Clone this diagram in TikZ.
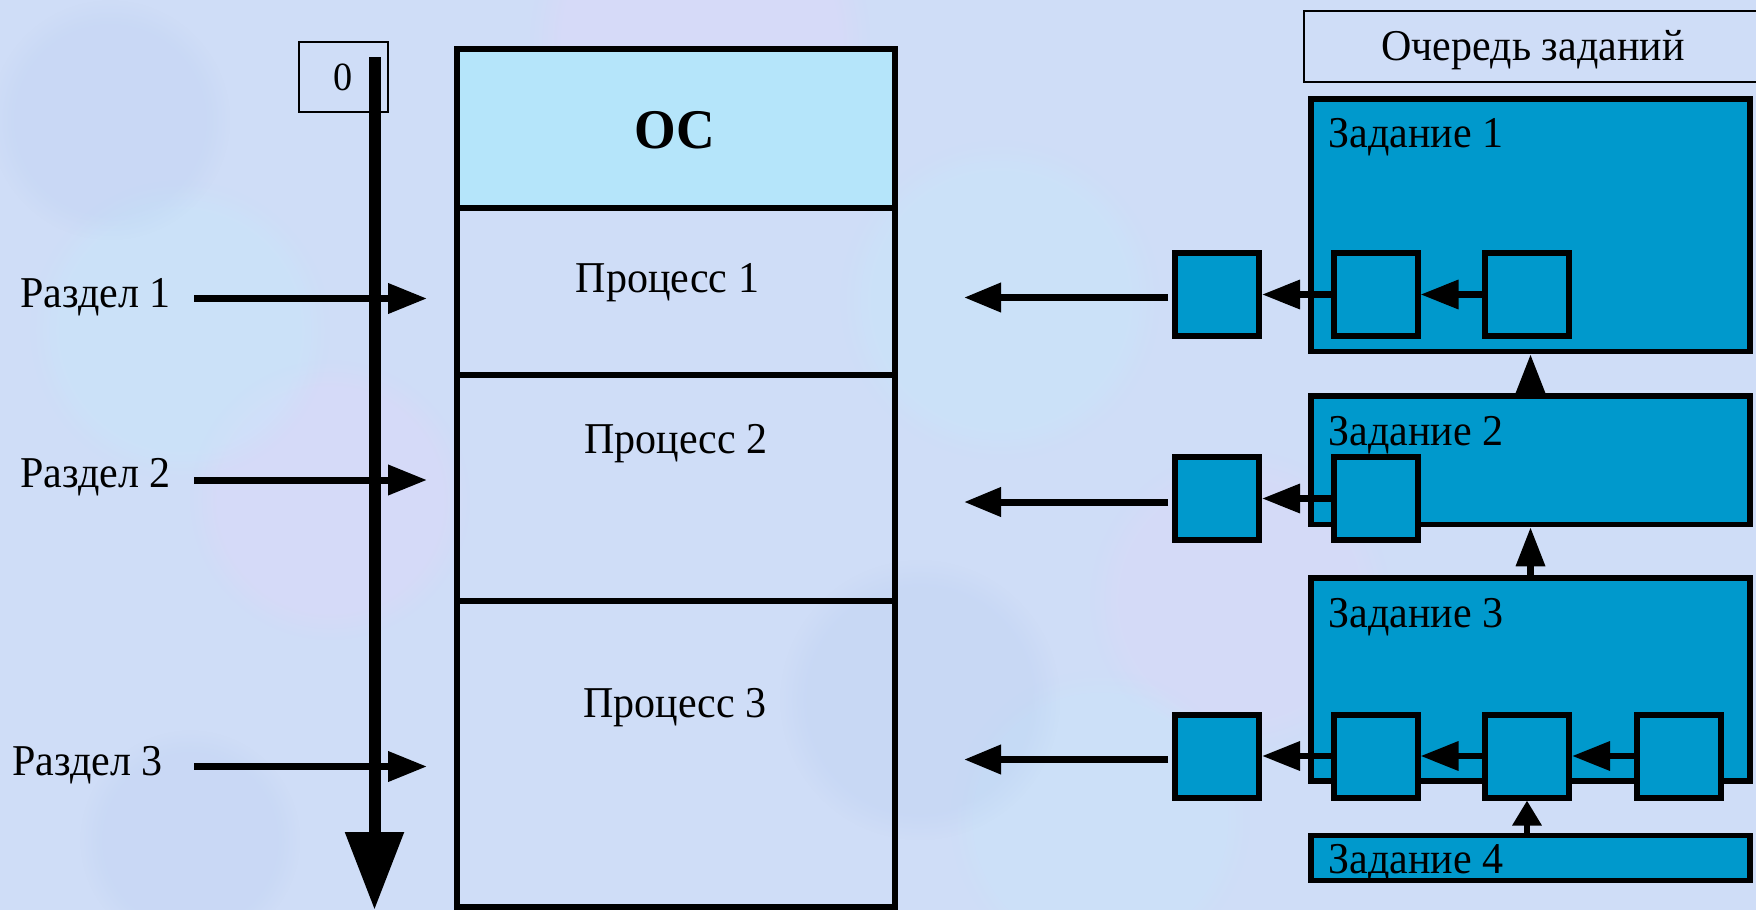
\documentclass[tikz,border=0pt]{standalone}
\usepackage{fontspec}
\setmainfont{Liberation Serif}[FakeStretch=0.955]
\usetikzlibrary{arrows.meta,fadings}

\definecolor{bgbase}{RGB}{207,221,247}
\definecolor{bglav}{RGB}{226,214,250}
\definecolor{bgcyan}{RGB}{198,234,252}
\definecolor{bgdeep}{RGB}{184,205,240}
\definecolor{osfill}{RGB}{181,229,250}
\definecolor{jobfill}{RGB}{0,153,204}

\begin{document}
\begin{tikzpicture}[x=0.5pt,y=-0.5pt,
  txt/.style={inner sep=0, font=\fontsize{22pt}{26pt}\selectfont},
  bigtxt/.style={inner sep=0, font=\fontsize{28pt}{32pt}\selectfont\bfseries},
  memsect/.style={draw, line width=3pt, inner sep=0, outer sep=0, minimum width=219pt},
  jobbox/.style={draw, line width=2.75pt, fill=jobfill, inner sep=0, minimum width=219.5pt},
  taskbox/.style={draw, line width=3pt, fill=jobfill, inner sep=0, minimum width=42pt, minimum height=41.5pt},
  partarrow/.style={line width=3.5pt, -{Triangle[length=19.5pt,width=14.5pt]}},
  outarrow/.style={line width=3.5pt, -{Triangle[length=18.5pt,width=14pt]}},
  qarrow/.style={line width=3.25pt, -{Triangle[length=19pt,width=14pt]}},
  uparrow/.style={line width=3.25pt, -{Triangle[length=19.5pt,width=14pt]}},
  blob/.style={fill=#1, path fading=circle with fuzzy edge 20 percent}
]
\useasboundingbox (0,0) rectangle (1756,910);

% textured pastel background
\fill[bgbase] (0,0) rectangle (1756,910);
\begin{scope}
  \clip (0,0) rectangle (1756,910);
  \fill[blob=bglav, opacity=0.4] (700,40) circle (170);
  \fill[blob=bglav, opacity=0.35] (330,500) circle (140);
  \fill[blob=bglav, opacity=0.3] (1240,600) circle (150);
  \fill[blob=bgcyan, opacity=0.35] (180,330) circle (150);
  \fill[blob=bgcyan, opacity=0.35] (1000,300) circle (160);
  \fill[blob=bgcyan, opacity=0.3] (1100,820) circle (150);
  \fill[blob=bgdeep, opacity=0.3] (920,700) circle (140);
  \fill[blob=bgdeep, opacity=0.25] (110,120) circle (120);
  \fill[blob=bgdeep, opacity=0.25] (190,840) circle (110);
\end{scope}

% memory: OS and three process partitions
\node[memsect, fill=osfill, minimum height=79.25pt] (os) at (676,128.25) {};
\node[memsect, minimum height=83.5pt] (p1) at (676,291) {};
\node[memsect, minimum height=113pt] (p2) at (676,487.5) {};
\node[memsect, minimum height=153.25pt] (p3) at (676,753.75) {};

\node[bigtxt, anchor=base] (ostxt) at (675,148) {ОС};
\node[txt, anchor=base] (p1txt) at (667.5,292) {Процесс 1};
\node[txt, anchor=base] (p2txt) at (676,453) {Процесс 2};
\node[txt, anchor=base] (p3txt) at (675,717) {Процесс 3};

% address axis starting at zero
\node[draw, line width=1pt, inner sep=0, minimum width=44.5pt, minimum height=35pt,
      font=\fontsize{20pt}{24pt}\selectfont] (zero) at (343.5,77) {0};
\coordinate (axtop) at (374.5,57);
\coordinate (axend) at (374.5,910);
\draw[line width=6pt, -{Triangle[length=39pt,width=28pt]}] (axtop) -- (axend);

% partition boundaries
\node[txt, anchor=base west] (rz1) at (20,307) {Раздел 1};
\node[txt, anchor=base west] (rz2) at (20,487) {Раздел 2};
\node[txt, anchor=base west] (rz3) at (12,775) {Раздел 3};
\coordinate (r1s) at (194,298.5);  \coordinate (r1e) at (427,298.5);
\coordinate (r2s) at (194,480);    \coordinate (r2e) at (427,480);
\coordinate (r3s) at (194,766.5);  \coordinate (r3e) at (427,766.5);
\draw[partarrow] (r1s) -- (r1e);
\draw[partarrow] (r2s) -- (r2e);
\draw[partarrow] (r3s) -- (r3e);

% job queue
\node[draw, line width=1pt, inner sep=0, minimum width=228pt, minimum height=35.5pt] (qtitle) at (1532,46.5) {};
\node[txt, anchor=base] (qtxt) at (1533,60) {Очередь заданий};

\node[jobbox, minimum height=126.25pt] (j1) at (1530.5,225.25) {};
\node[jobbox, minimum height=64.25pt] (j2) at (1530.5,460.25) {};
\node[jobbox, minimum height=101.5pt] (j3) at (1530.5,679.5) {};
\node[jobbox, minimum height=22.5pt] (j4) at (1530.5,858) {};

\node[txt, anchor=base west] (j1txt) at (1328,147) {Задание 1};
\node[txt, anchor=base west] (j2txt) at (1328,445) {Задание 2};
\node[txt, anchor=base west] (j3txt) at (1328,627) {Задание 3};
\node[txt, anchor=base west] (j4txt) at (1328,873) {Задание 4};

% job steps
\node[taskbox] (a1) at (1217,294.5) {};
\node[taskbox] (b1) at (1375.5,294.5) {};
\node[taskbox] (c1) at (1527,294.5) {};
\node[taskbox] (a2) at (1217,498.5) {};
\node[taskbox] (b2) at (1375.5,498.5) {};
\node[taskbox] (a3) at (1217,756) {};
\node[taskbox] (b3) at (1375.5,756) {};
\node[taskbox] (c3) at (1527,756) {};
\node[taskbox] (d3) at (1678.5,756) {};

% flow between steps
\draw[qarrow] (c1.west) -- (b1.east);
\draw[qarrow] (b1.west) -- (a1.east);
\draw[qarrow] (b2.west) -- (a2.east);
\draw[qarrow] (d3.west) -- (c3.east);
\draw[qarrow] (c3.west) -- (b3.east);
\draw[qarrow] (b3.west) -- (a3.east);

% steps leaving the queue towards memory
\coordinate (o1) at (964,297.5);
\coordinate (o2) at (964,502);
\coordinate (o3) at (964,759.5);
\draw[outarrow, shorten <=2pt] ([yshift=-1.5pt]a1.west) -- (o1);
\draw[outarrow, shorten <=2pt] ([yshift=-1.75pt]a2.west) -- (o2);
\draw[outarrow, shorten <=2pt] ([yshift=-1.75pt]a3.west) -- (o3);

% queue order
\draw[uparrow] (j2.north) -- (j1.south);
\draw[uparrow] (j3.north) -- (j2.south);
\draw[line width=3.25pt, -{Triangle[length=12.5pt,width=14pt]}] (j4.north -| c3.south) -- (c3.south);
\end{tikzpicture}
\end{document}
